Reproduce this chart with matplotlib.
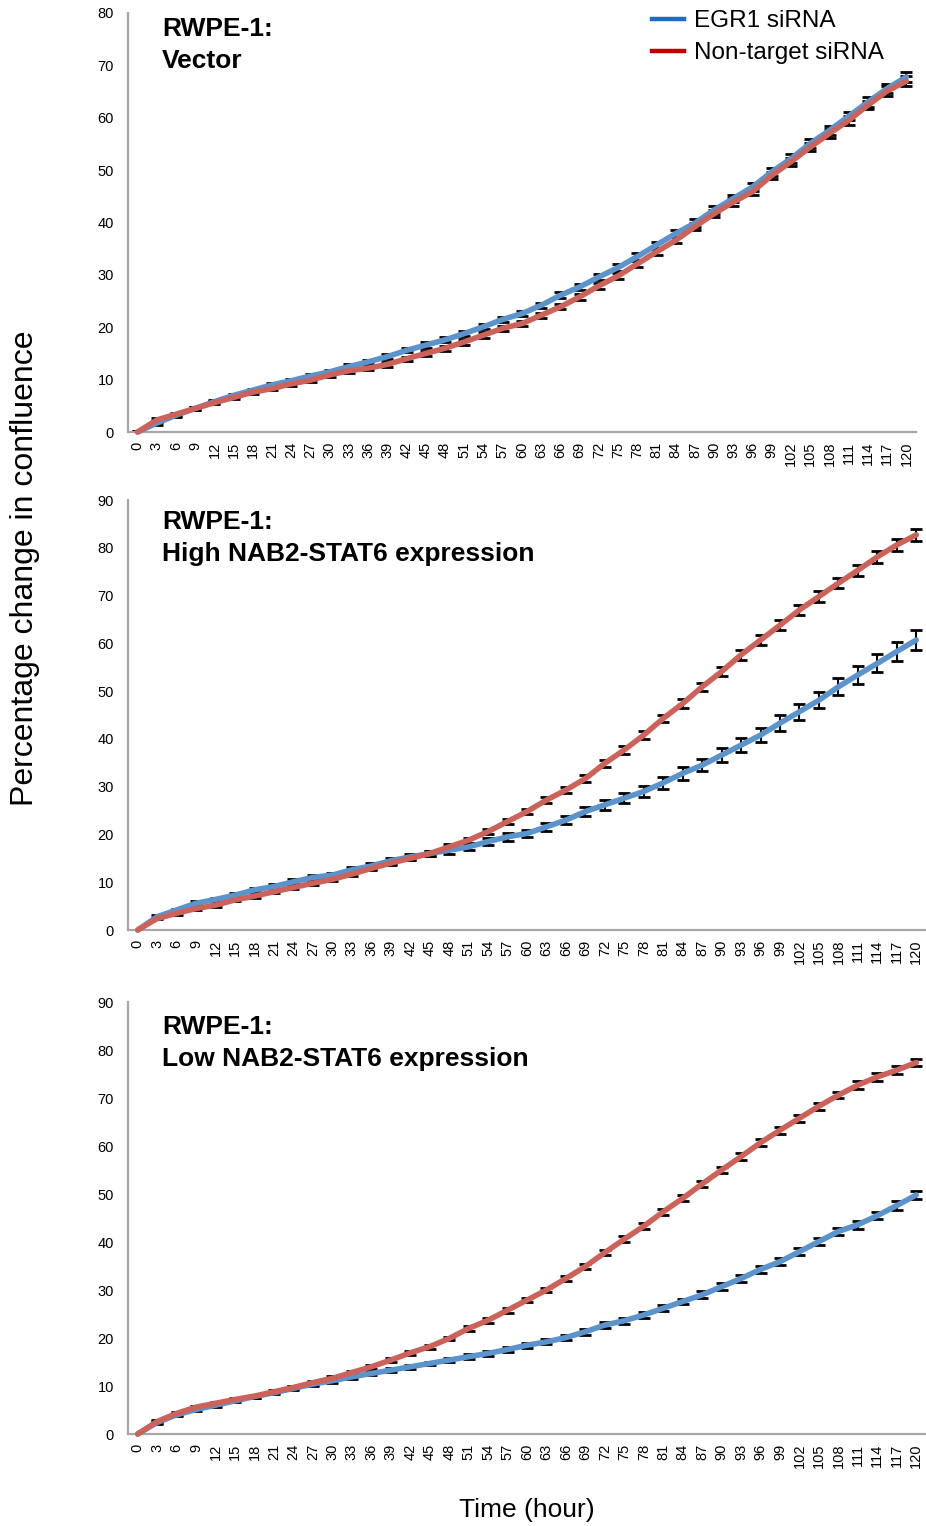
import matplotlib
matplotlib.use('Agg')
import matplotlib.pyplot as plt
from matplotlib.lines import Line2D

plt.rcParams['font.family'] = ['Liberation Sans', 'DejaVu Sans']

hours = list(range(0, 121, 3))

# panel 1: vector
vec_egr1 = [0, 1.7, 3.2, 4.5, 5.8, 7.0, 8.0, 9.0, 9.8, 10.7, 11.5, 12.5, 13.4, 14.4,
            15.6, 16.6, 17.6, 18.8, 20.1, 21.5, 22.6, 24.2, 26.1, 27.7, 29.6, 31.4,
            33.5, 35.7, 37.9, 39.9, 42.4, 44.6, 46.8, 49.7, 52.2, 55.1, 57.6, 60.3,
            63.0, 65.6, 67.8]
vec_nt = [0, 2.3, 3.4, 4.5, 5.6, 6.6, 7.6, 8.3, 9.2, 9.9, 10.9, 11.7, 12.2, 12.9,
          14.0, 15.0, 16.0, 17.2, 18.5, 19.8, 20.7, 22.3, 23.9, 25.8, 27.9, 29.8,
          32.1, 34.4, 36.6, 39.2, 41.7, 43.9, 45.9, 49.0, 51.6, 54.4, 57.0, 59.5,
          62.4, 65.1, 67.0]
vec_egr1_err = [0.1, 0.3, 0.3, 0.3, 0.3, 0.3, 0.3, 0.4, 0.4, 0.4, 0.4, 0.4, 0.4, 0.4,
                0.4, 0.5, 0.5, 0.5, 0.5, 0.5, 0.5, 0.5, 0.6, 0.6, 0.6, 0.6, 0.6, 0.6,
                0.7, 0.7, 0.7, 0.7, 0.7, 0.8, 0.8, 0.8, 0.8, 0.8, 0.9, 0.9, 0.9]
vec_nt_err = [0.1, 0.3, 0.3, 0.3, 0.3, 0.3, 0.3, 0.3, 0.4, 0.4, 0.4, 0.4, 0.4, 0.4,
              0.4, 0.4, 0.5, 0.5, 0.5, 0.5, 0.5, 0.5, 0.5, 0.6, 0.6, 0.6, 0.6, 0.6,
              0.6, 0.7, 0.7, 0.7, 0.7, 0.7, 0.8, 0.8, 0.8, 0.8, 0.8, 0.9, 0.9]

# panel 2: high NAB2-STAT6
high_egr1 = [0, 2.8, 4.2, 5.6, 6.4, 7.3, 8.4, 9.1, 10.1, 11.0, 11.5, 12.6, 13.4, 14.5,
             15.3, 16.0, 16.7, 17.4, 18.5, 19.5, 20.2, 21.6, 23.0, 24.8, 26.2, 27.6,
             29.0, 30.8, 32.8, 34.5, 36.6, 38.7, 40.8, 43.3, 45.7, 48.1, 50.9, 53.4,
             55.8, 58.3, 60.7]
high_nt = [0, 2.4, 3.5, 4.5, 5.2, 6.3, 7.1, 8.0, 8.9, 9.8, 10.6, 11.7, 12.9, 14.0,
           15.0, 16.0, 17.4, 18.8, 20.6, 22.7, 24.8, 27.2, 29.3, 31.7, 34.9, 37.7,
           40.8, 44.3, 47.4, 50.9, 54.1, 57.6, 60.7, 63.8, 67.0, 69.8, 72.6, 75.3,
           78.1, 80.6, 82.7]
high_egr1_err = [0.1, 0.3, 0.3, 0.4, 0.4, 0.4, 0.4, 0.5, 0.5, 0.5, 0.5, 0.5, 0.6, 0.6,
                 0.6, 0.6, 0.7, 0.7, 0.7, 0.8, 0.8, 0.9, 0.9, 1.0, 1.0, 1.1, 1.1, 1.2,
                 1.3, 1.3, 1.4, 1.5, 1.5, 1.6, 1.7, 1.7, 1.8, 1.9, 1.9, 2.0, 2.1]
high_nt_err = [0.1, 0.2, 0.3, 0.3, 0.3, 0.3, 0.3, 0.3, 0.3, 0.4, 0.4, 0.4, 0.4, 0.4,
               0.4, 0.5, 0.5, 0.5, 0.5, 0.6, 0.6, 0.6, 0.7, 0.7, 0.7, 0.8, 0.8, 0.8,
               0.9, 0.9, 0.9, 1.0, 1.0, 1.0, 1.1, 1.1, 1.1, 1.2, 1.2, 1.2, 1.3]

# panel 3: low NAB2-STAT6
low_egr1 = [0, 2.4, 4.0, 5.1, 6.0, 6.9, 7.8, 8.6, 9.5, 10.4, 11.1, 11.9, 12.6, 13.3,
            14.0, 14.7, 15.4, 16.1, 16.8, 17.6, 18.5, 19.2, 20.1, 21.3, 22.7, 23.6,
            24.8, 26.2, 27.6, 29.0, 30.7, 32.4, 34.3, 35.9, 38.0, 40.1, 42.2, 43.6,
            45.5, 47.6, 49.8]
low_nt = [0, 2.6, 4.3, 5.6, 6.4, 7.2, 7.9, 8.8, 9.7, 10.7, 11.6, 12.8, 14.0, 15.4,
          16.9, 18.2, 19.9, 22.0, 23.7, 25.8, 27.9, 30.0, 32.4, 34.9, 37.8, 40.6,
          43.3, 46.3, 49.1, 52.1, 55.0, 57.8, 60.7, 63.3, 65.8, 68.3, 70.6, 72.7,
          74.4, 75.8, 77.4]
low_egr1_err = [0.1, 0.3, 0.3, 0.3, 0.3, 0.3, 0.3, 0.3, 0.4, 0.4, 0.4, 0.4, 0.4, 0.4,
                0.4, 0.4, 0.5, 0.5, 0.5, 0.5, 0.5, 0.5, 0.5, 0.6, 0.6, 0.6, 0.6, 0.6,
                0.6, 0.7, 0.7, 0.7, 0.7, 0.7, 0.8, 0.8, 0.8, 0.8, 0.8, 0.9, 0.9]
low_nt_err = [0.1, 0.3, 0.3, 0.3, 0.3, 0.3, 0.3, 0.3, 0.3, 0.4, 0.4, 0.4, 0.4, 0.4,
              0.4, 0.4, 0.4, 0.5, 0.5, 0.5, 0.5, 0.5, 0.5, 0.5, 0.6, 0.6, 0.6, 0.6,
              0.6, 0.6, 0.6, 0.7, 0.7, 0.7, 0.7, 0.7, 0.7, 0.8, 0.8, 0.8, 0.8]

titles = [('RWPE-1:', 'Vector'),
          ('RWPE-1:', 'High NAB2-STAT6 expression'),
          ('RWPE-1:', 'Low NAB2-STAT6 expression')]
ymaxes = [80, 90, 90]

BLUE = '#5B93CD'
RED = '#CD625A'
GREY = '#A6A6A6'

W, H = 926, 1526
fig = plt.figure(figsize=(W / 100, H / 100), dpi=100)


def px_axes(left, right, top, bottom):
    return fig.add_axes([left / W, 1 - bottom / H, (right - left) / W, (bottom - top) / H])


boxes = [(128, 916, 13, 432), (128, 926, 500, 930), (128, 926, 1002, 1434)]
baselines = [(36, 68), (529, 561), (1034, 1066)]
series = [(vec_egr1, vec_egr1_err, vec_nt, vec_nt_err),
          (high_egr1, high_egr1_err, high_nt, high_nt_err),
          (low_egr1, low_egr1_err, low_nt, low_nt_err)]

xs = list(range(len(hours)))
for k in range(3):
    ax = px_axes(*boxes[k])
    blue, blue_err, red, red_err = series[k]
    for y, e, c in ((blue, blue_err, BLUE), (red, red_err, RED)):
        ax.errorbar(xs, y, yerr=e, fmt='none', ecolor='black', elinewidth=1.5,
                    capsize=4, capthick=2, zorder=2)
        ax.plot(xs, y, color=c, lw=4, solid_capstyle='round', zorder=3, clip_on=False)
    ax.set_xlim(-0.5, len(hours) - 0.5)
    ax.set_ylim(0, ymaxes[k])
    ax.set_yticks(range(0, ymaxes[k] + 1, 10))
    ax.set_xticks(xs)
    ax.set_xticklabels([str(h) for h in hours], rotation=90)
    for side in ('top', 'right'):
        ax.spines[side].set_visible(False)
    for side in ('left', 'bottom'):
        ax.spines[side].set_color(GREY)
        ax.spines[side].set_linewidth(1.6)
    ax.tick_params(axis='both', length=0, labelsize=10.5)
    ax.tick_params(axis='y', pad=10)
    ax.tick_params(axis='x', pad=7)
    b1, b2 = baselines[k]
    fig.text(162 / W, 1 - b1 / H, titles[k][0], fontsize=19, fontweight='bold',
             va='baseline', ha='left')
    fig.text(162 / W, 1 - b2 / H, titles[k][1], fontsize=19, fontweight='bold',
             va='baseline', ha='left')

handles = [Line2D([], [], color='#1F6CC4', lw=3.2),
           Line2D([], [], color='#C00000', lw=3.2)]
fig.legend(handles, ['EGR1 siRNA', 'Non-target siRNA'], loc='upper left',
           bbox_to_anchor=(652 / W, 1 - 10 / H), frameon=False, fontsize=17.5,
           handlelength=1.3, handletextpad=0.42, labelspacing=0.42, borderpad=0,
           borderaxespad=0)

fig.text(25 / W, 1 - 568 / H, 'Percentage change in confluence', rotation=90,
         fontsize=23, ha='center', va='center')
fig.text(527 / W, 1 - 1510 / H, 'Time (hour)', fontsize=19, ha='center', va='center')

fig.savefig('out.png', dpi=100)
